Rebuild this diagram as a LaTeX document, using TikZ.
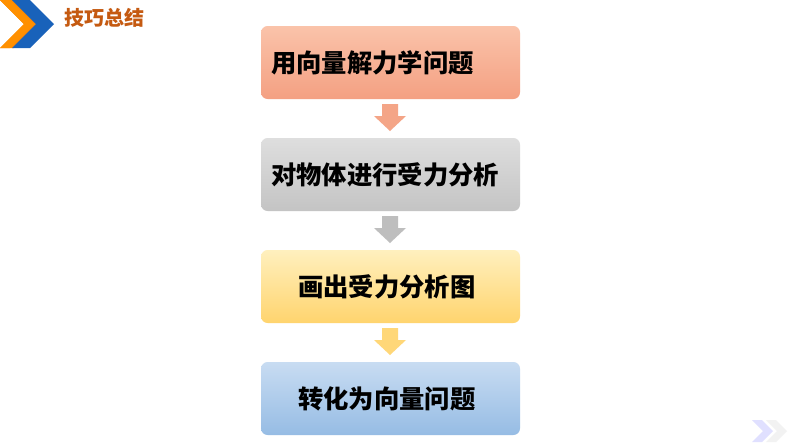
\documentclass[tikz,border=0pt]{standalone}
\usepackage{fontspec}
\newfontfamily\cjk{Noto Sans CJK SC}
\begin{document}
\begin{tikzpicture}[x=0.75pt,y=-0.75pt,
  stepbox/.style={rounded corners=5pt,draw=none},
  lbl/.style={anchor=west,font=\cjk\bfseries\fontsize{19}{22}\selectfont,text=black,inner sep=0pt},
  barrow/.style={draw=none}]
\useasboundingbox[fill=white] (0,0) rectangle (794,447);
% top-left chevrons
\fill[orange!80!yellow!90!red] (0,0) -- (14,0) -- (38,24) -- (14,48) -- (0,48) -- (24,24) -- cycle;
\fill[orange!75!red!70!yellow] (0,0) -- (10,0) -- (34,24) -- (10,48) -- (0,48) -- (24,24) -- cycle;
\fill[blue!55!cyan!70!black!90] (12,0) -- (30,0) -- (54,24) -- (30,48) -- (12,48) -- (36,24) -- cycle;
\node[anchor=west,inner sep=0pt,text={rgb,255:red,197;green,90;blue,17},font=\cjk\bfseries\fontsize{15}{18}\selectfont] (title) at (64,18) {技巧总结};
% boxes
\shade[stepbox,top color={rgb,255:red,250;green,195;blue,170},bottom color={rgb,255:red,244;green,160;blue,130}] (261,26) rectangle (520,99);
\shade[stepbox,top color={rgb,255:red,222;green,222;blue,222},bottom color={rgb,255:red,196;green,196;blue,196}] (261,138) rectangle (520,211);
\shade[stepbox,top color={rgb,255:red,255;green,240;blue,190},bottom color={rgb,255:red,255;green,212;blue,110}] (261,250) rectangle (520,323);
\shade[stepbox,top color={rgb,255:red,200;green,220;blue,242},bottom color={rgb,255:red,150;green,188;blue,228}] (261,362) rectangle (520,435);
\node[lbl] (t1) at (271,63) {用向量解力学问题};
\node[lbl] (t2) at (271,175) {对物体进行受力分析};
\node[lbl] (t3) at (298,287) {画出受力分析图};
\node[lbl] (t4) at (298,399) {转化为向量问题};
% block arrows
\foreach \y/\c in {104/{rgb,255:red,244;green,165;blue,135},216/{rgb,255:red,190;green,190;blue,190},328/{rgb,255:red,255;green,215;blue,120}}{
  \fill[fill=\c] (382,\y) -- (398,\y) -- (398,\y+12) -- (406,\y+12) -- (390,\y+27) -- (374,\y+12) -- (382,\y+12) -- cycle;
}
% bottom-right faint chevrons
\fill[blue!12] (752,420) -- (762,420) -- (773,431) -- (762,442) -- (752,442) -- (763,431) -- cycle;
\fill[gray!10] (766,420) -- (776,420) -- (787,431) -- (776,442) -- (766,442) -- (777,431) -- cycle;
\end{tikzpicture}
\end{document}
